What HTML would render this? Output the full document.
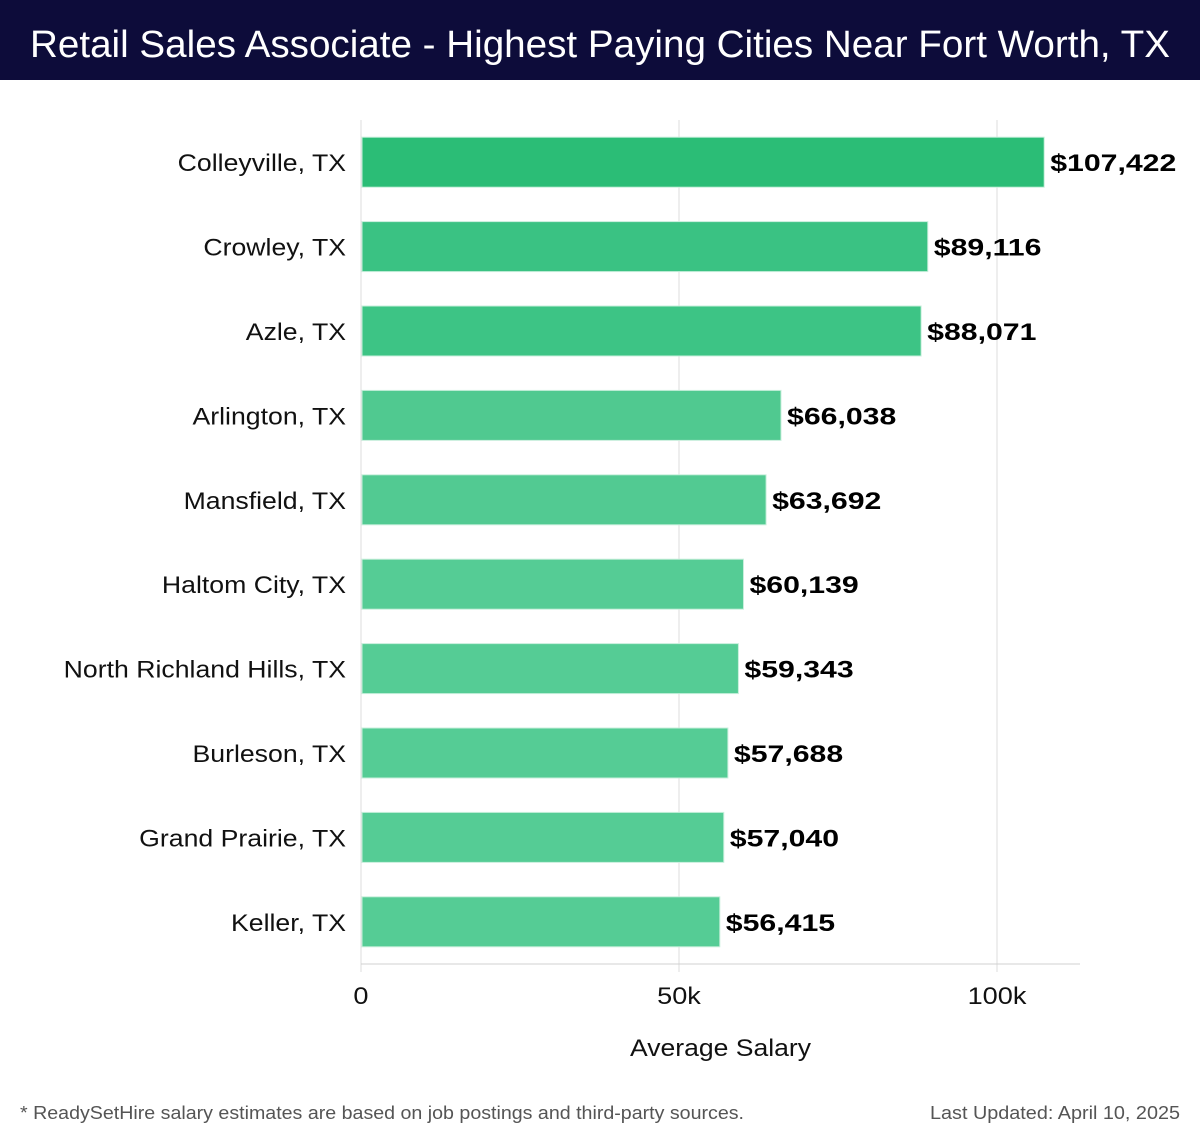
<!DOCTYPE html>
<html><head><meta charset="utf-8">
<style>
html,body{margin:0;padding:0;background:#fff;}
svg{display:block;font-family:"Liberation Sans",sans-serif;}
</style></head>
<body>
<svg id="chart" width="1200" height="1140" viewBox="0 0 1200 1140">
  <rect x="0" y="0" width="1200" height="80" fill="#0d0c3a"/>
  <text x="30" y="57" font-size="38" fill="#ffffff" textLength="1140" lengthAdjust="spacingAndGlyphs" style="font-weight:300">Retail Sales Associate - Highest Paying Cities Near Fort Worth, TX</text>
  <g id="grid"></g>
  <g id="bars"></g>
  <g id="labels"></g>
  <line x1="361" y1="964" x2="1080" y2="964" stroke="#d0d0d0" stroke-width="1"/>
  <text x="630" y="1056" font-size="24" fill="#111" textLength="181" lengthAdjust="spacingAndGlyphs">Average Salary</text>
  <text x="20" y="1119" font-size="18" fill="#555" textLength="724" lengthAdjust="spacingAndGlyphs">* ReadySetHire salary estimates are based on job postings and third-party sources.</text>
  <text x="930" y="1119" font-size="18" fill="#555" textLength="250" lengthAdjust="spacingAndGlyphs">Last Updated: April 10, 2025</text>
</svg>
<script>
const cities = ["Colleyville, TX","Crowley, TX","Azle, TX","Arlington, TX","Mansfield, TX","Haltom City, TX","North Richland Hills, TX","Burleson, TX","Grand Prairie, TX","Keller, TX"];
const salaries = [107422,89116,88071,66038,63692,60139,59343,57688,57040,56415];
const barColors = ["#2bbd76","#3ac283","#3dc485","#50c990","#52ca92","#55cc95","#55cc95","#55cc95","#55cc95","#55cc95"];
const tickValues = [0,50000,100000];
const tickLabels = ["0","50k","100k"];

const NS="http://www.w3.org/2000/svg";
const x0=361, pxPer=(997-361)/100000;
const plotTop=120, plotBottom=964, band=(plotBottom-plotTop)/cities.length, barH=50;
function xScale(v){return x0+v*pxPer;}
function yCenter(i){return plotTop+band*(i+0.5);}
function mk(tag,attrs,parent){const e=document.createElementNS(NS,tag);for(const k in attrs)e.setAttribute(k,attrs[k]);parent.appendChild(e);return e;}
function stretch(t,f){const w=t.getComputedTextLength();t.setAttribute('textLength',(w*f).toFixed(1));t.setAttribute('lengthAdjust','spacingAndGlyphs');}

const grid=document.getElementById('grid');
tickValues.forEach((v,i)=>{
  const l=mk('line',{x1:xScale(v),x2:xScale(v),y1:plotTop,y2:plotBottom+8,stroke:'#dcdcdc','stroke-width':1},grid);
  
  
  const t=mk('text',{x:xScale(v),y:1004,'font-size':24,fill:'#111','text-anchor':'middle'},grid);
  t.textContent=tickLabels[i];
  
  
  stretch(t,1.13);
});

const bars=document.getElementById('bars'), labels=document.getElementById('labels');
cities.forEach((c,i)=>{
  const cy=yCenter(i);
  const r=mk('rect',{x:x0+1,y:cy-barH/2,width:xScale(salaries[i])-x0-1,height:barH,fill:barColors[i],stroke:'#c8efdc','stroke-width':1},bars);
  
  
  const cl=mk('text',{x:346,y:cy+9,'font-size':24,fill:'#111','text-anchor':'end'},labels);
  cl.textContent=c;
  
  
  stretch(cl,1.11);
  const vl=mk('text',{x:xScale(salaries[i])+6,y:cy+9,'font-size':24,'font-weight':'bold',fill:'#000'},labels);
  vl.textContent='$'+salaries[i].toLocaleString('en-US');
  
  
  stretch(vl,1.26);
});
</script>
</body></html>
